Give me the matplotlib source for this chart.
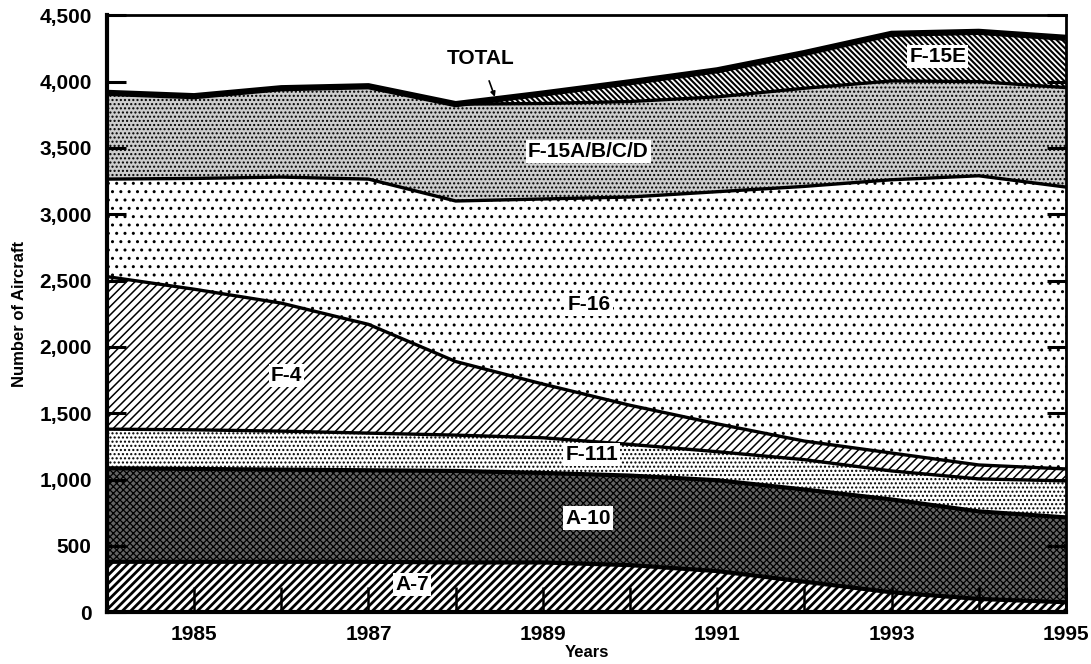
import numpy as np
import matplotlib
matplotlib.use('Agg')
import matplotlib.pyplot as plt
from matplotlib.ticker import FuncFormatter, MultipleLocator

plt.rcParams['font.family'] = ['Liberation Sans', 'DejaVu Sans']
plt.rcParams['font.weight'] = 'bold'

# aircraft counts per year (stacked bottom to top)
years = [1984, 1985, 1986, 1987, 1988, 1989, 1990, 1991, 1992, 1993, 1994, 1995]
a7 = [380, 380, 380, 380, 375, 375, 355, 310, 230, 150, 100, 75]
a10 = [705, 700, 695, 690, 690, 675, 675, 685, 695, 700, 660, 640]
f111 = [295, 295, 290, 280, 270, 265, 235, 215, 225, 215, 245, 275]
f4 = [1150, 1060, 965, 820, 555, 405, 295, 210, 140, 135, 105, 90]
f16 = [735, 835, 950, 1095, 1210, 1395, 1570, 1750, 1920, 2060, 2180, 2125]
f15abcd = [650, 620, 670, 700, 730, 720, 720, 715, 740, 745, 710, 750]
f15e = [0, 0, 0, 0, 0, 75, 145, 200, 265, 355, 375, 375]

series = [a7, a10, f111, f4, f16, f15abcd, f15e]
labels = ['A-7', 'A-10', 'F-111', 'F-4', 'F-16', 'F-15A/B/C/D', 'F-15E']
# (facecolor, hatch, hatch linewidth)
styles = [
    ('white', '////', 2.0),
    ('#646464', 'xxxxx', 0.9),
    ('white', '....', 1.0),
    ('white', '////', 1.1),
    ('white', '..', 1.0),
    ('#cdcdcd', '....', 1.0),
    ('white', '\\\\\\\\\\\\', 1.5),
]

fig = plt.figure(figsize=(10.91, 6.64), dpi=100)
ax = fig.add_axes([0.098, 0.078, 0.879, 0.899])

x = np.array(years, dtype=float)
tops = np.cumsum(np.array(series, dtype=float), axis=0)
bottom = np.zeros_like(x)
for top, (fc, hatch, hlw) in zip(tops, styles):
    poly = ax.fill_between(x, bottom, top, facecolor=fc, hatch=hatch,
                           edgecolor='black', linewidth=0, zorder=1)
    if hasattr(poly, 'set_hatch_linewidth'):
        poly.set_hatch_linewidth(hlw)
    bottom = top

# boundary lines between the bands
start_e = np.argmax(np.array(f15e) > 0) - 1
for i, top in enumerate(tops[:-1]):
    lw = 3.0 if i in (0, 1) else 2.4
    if i == 5:
        ax.plot(x[start_e:], top[start_e:], color='black', lw=lw, zorder=3)
    else:
        ax.plot(x, top, color='black', lw=lw, zorder=3)
ax.plot(x, tops[-1], color='black', lw=4.5, zorder=4, solid_capstyle='butt')

# band labels
label_pos = {
    'A-7': (1987.5, 210),
    'A-10': (1989.52, 710),
    'F-111': (1989.56, 1186),
    'F-4': (1986.06, 1782),
    'F-16': (1989.53, 2319),
    'F-15A/B/C/D': (1989.52, 3474),
    'F-15E': (1993.53, 4192),
}
for name in labels:
    lx, ly = label_pos[name]
    ax.text(lx, ly, name, ha='center', va='center', fontsize=15,
            fontweight='bold', zorder=6,
            bbox=dict(facecolor='white', edgecolor='none', pad=1.5))

ax.annotate('TOTAL', xy=(1988.45, 3885), xytext=(1988.29, 4177),
            ha='center', va='center', fontsize=15, fontweight='bold', zorder=6,
            arrowprops=dict(arrowstyle='-|>', color='black', lw=1.2,
                            mutation_scale=7, shrinkA=8, shrinkB=0))

ax.set_xlim(1984, 1995)
ax.set_ylim(0, 4500)
ax.xaxis.set_major_locator(MultipleLocator(2, offset=1))
ax.xaxis.set_minor_locator(MultipleLocator(1))
ax.yaxis.set_major_locator(MultipleLocator(500))
ax.yaxis.set_major_formatter(FuncFormatter(lambda v, p: f'{int(v):,}'))
ax.xaxis.set_major_formatter(FuncFormatter(lambda v, p: f'{int(round(v))}'))

ax.tick_params(axis='y', direction='in', length=14, width=2.2, right=True,
               labelsize=15, pad=11)
ax.tick_params(axis='x', which='both', direction='in', length=18, width=1.8,
               labelsize=15, pad=9)
for lab in ax.get_xticklabels() + ax.get_yticklabels():
    lab.set_fontweight('bold')
for side in ['left', 'bottom']:
    ax.spines[side].set_linewidth(3)
for side in ['top', 'right']:
    ax.spines[side].set_linewidth(2)
for sp in ax.spines.values():
    sp.set_zorder(5)

ax.set_ylabel('Number of Aircraft', fontsize=12, fontweight='bold', labelpad=9)
ax.set_xlabel('Years', fontsize=12, fontweight='bold', labelpad=1)

fig.savefig('out.png', dpi=100)
